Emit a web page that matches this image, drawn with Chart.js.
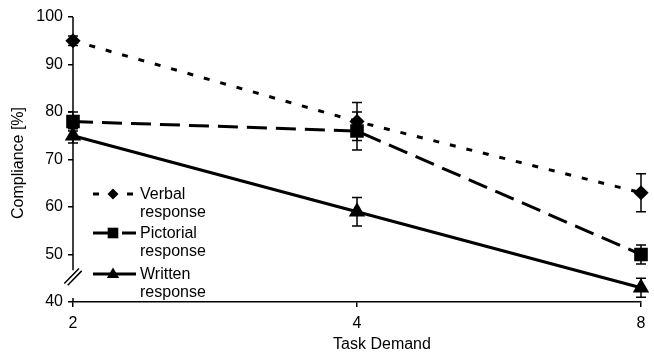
<!DOCTYPE html>
<html>
<head>
<meta charset="utf-8">
<script src="https://cdn.jsdelivr.net/npm/chart.js@4.4.1/dist/chart.umd.min.js"></script>
<style>
html,body{margin:0;padding:0;background:#fff;}
#wrap{width:654px;height:356px;position:relative;}
</style>
</head>
<body>
<div id="wrap"><canvas id="c" width="654" height="356"></canvas></div>
<script>
const categories = ['2', '4', '8'];
const verbal = [95, 78, 63];
const verbalErr = [1, 4, 4];
const pictorial = [78, 76, 50];
const pictorialErr = [2, 4, 2];
const written = [75, 59, 43];
const writtenErr = [1.5, 3, 2];
const seriesNames = [['Verbal', 'response'], ['Pictorial', 'response'], ['Written', 'response']];
const yTicks = [40, 50, 60, 70, 80, 90, 100];
const xTitle = 'Task Demand';
const yTitle = 'Compliance [%]';

const FONT = "'Liberation Sans', Arial, sans-serif";
const errs = [verbalErr, pictorialErr, writtenErr];

function drawMarker(ctx, style, x, y, r) {
  ctx.save();
  ctx.fillStyle = '#000';
  ctx.beginPath();
  if (style === 'rectRot') {
    ctx.moveTo(x, y - r); ctx.lineTo(x + r, y); ctx.lineTo(x, y + r); ctx.lineTo(x - r, y);
  } else if (style === 'rect') {
    const s = Math.SQRT1_2 * r;
    ctx.rect(x - s, y - s, 2 * s, 2 * s);
  } else if (style === 'triangle') {
    ctx.moveTo(x, y - r);
    ctx.lineTo(x + r * 0.95, y + r * 0.6);
    ctx.lineTo(x - r * 0.95, y + r * 0.6);
  }
  ctx.closePath();
  ctx.fill();
  ctx.restore();
}

const decor = {
  id: 'decor',
  beforeDatasetsDraw(chart) {
    const ctx = chart.ctx;
    const xs = chart.scales.x, ys = chart.scales.y;
    ctx.save();
    ctx.strokeStyle = '#000';
    ctx.lineWidth = 1.5;
    chart.data.datasets.forEach((ds, i) => {
      ds.data.forEach((v, j) => {
        const e = errs[i][j];
        const x = xs.getPixelForValue(j);
        const y1 = ys.getPixelForValue(v + e), y2 = ys.getPixelForValue(v - e);
        ctx.beginPath();
        ctx.moveTo(x, y1); ctx.lineTo(x, y2);
        ctx.moveTo(x - 5, y1); ctx.lineTo(x + 5, y1);
        ctx.moveTo(x - 5, y2); ctx.lineTo(x + 5, y2);
        ctx.stroke();
      });
    });
    ctx.restore();
  },
  afterDraw(chart) {
    const ctx = chart.ctx;
    const xs = chart.scales.x, ys = chart.scales.y;
    const ax = xs.getPixelForValue(0);
    ctx.save();
    ctx.strokeStyle = '#000';
    ctx.lineWidth = 1.5;
    // broken y axis
    const yTop = ys.getPixelForValue(100);
    const yB = ys.getPixelForValue(46.7);
    ctx.beginPath();
    ctx.moveTo(ax, yTop); ctx.lineTo(ax, yB);
    ctx.stroke();
    ctx.beginPath();
    ctx.moveTo(ax - 8.7, yB + 13.3); ctx.lineTo(ax + 6, yB - 1.7);
    ctx.moveTo(ax - 5.3, yB + 15); ctx.lineTo(ax + 8.7, yB + 0.7);
    ctx.stroke();
    // small stub above 40
    const y40 = ys.getPixelForValue(40);
    ctx.beginPath();
    ctx.moveTo(ax, y40 - 4); ctx.lineTo(ax, y40);
    ctx.stroke();

    // titles
    ctx.fillStyle = '#000';
    ctx.font = '16px ' + FONT;
    ctx.textAlign = 'center';
    ctx.textBaseline = 'middle';
    ctx.fillText(xTitle, 382, 345);
    ctx.save();
    ctx.translate(19, 163);
    ctx.rotate(-Math.PI / 2);
    ctx.fillText(yTitle, 0, 0);
    ctx.restore();

    // legend
    const rows = [194, 233, 274];
    chart.data.datasets.forEach((ds, i) => {
      const y = rows[i];
      ctx.save();
      ctx.strokeStyle = '#000';
      ctx.lineWidth = 3;
      ctx.setLineDash(ds.borderDash || []);
      ctx.beginPath();
      ctx.moveTo(93, y); ctx.lineTo(136, y);
      ctx.stroke();
      ctx.restore();
      drawMarker(ctx, ds.pointStyle, 113, y, ds.pointRadius);
      ctx.textAlign = 'left';
      ctx.fillText(seriesNames[i][0], 140, y + 1);
      ctx.fillText(seriesNames[i][1], 140, y + 19);
    });
    ctx.restore();
  }
};

new Chart(document.getElementById('c'), {
  type: 'line',
  data: {
    labels: categories,
    datasets: [
      { label: seriesNames[0].join(' '), data: verbal, borderColor: '#000', backgroundColor: '#000',
        borderWidth: 3, borderDash: [6, 11], pointStyle: 'rectRot', pointRadius: 5.5, pointHoverRadius: 5.5, tension: 0, clip: false },
      { label: seriesNames[1].join(' '), data: pictorial, borderColor: '#000', backgroundColor: '#000',
        borderWidth: 3, borderDash: [20, 9], pointStyle: 'rect', pointRadius: 7.5, pointHoverRadius: 7.5, tension: 0, clip: false },
      { label: seriesNames[2].join(' '), data: written, borderColor: '#000', backgroundColor: '#000',
        borderWidth: 3, pointStyle: 'triangle', pointRadius: 6.5, pointHoverRadius: 6.5, tension: 0, clip: false }
    ]
  },
  options: {
    responsive: false,
    animation: false,
    events: [],
    layout: { padding: { top: 17, right: 13, left: 0, bottom: 0 } },
    plugins: { legend: { display: false }, tooltip: { enabled: false }, title: { display: false } },
    scales: {
      x: {
        type: 'category',
        offset: false,
        grid: { display: true, drawOnChartArea: false, drawTicks: true, tickLength: 5, color: '#000', lineWidth: 1.5 },
        border: { display: true, color: '#000', width: 1.5 },
        ticks: { color: '#000', font: { family: FONT, size: 16 }, padding: 7, maxRotation: 0 },
        afterFit(s) { s.height = 54; }
      },
      y: {
        min: 40, max: 100,
        afterBuildTicks(s) { s.ticks = yTicks.map(v => ({ value: v })); },
        grid: { display: true, drawOnChartArea: false, drawTicks: true, tickLength: 5, color: '#000', lineWidth: 1.5 },
        border: { display: false },
        ticks: { color: '#000', font: { family: FONT, size: 16 }, padding: 5 },
        afterFit(s) { s.width = 73; }
      }
    }
  },
  plugins: [decor]
});
</script>
</body>
</html>
